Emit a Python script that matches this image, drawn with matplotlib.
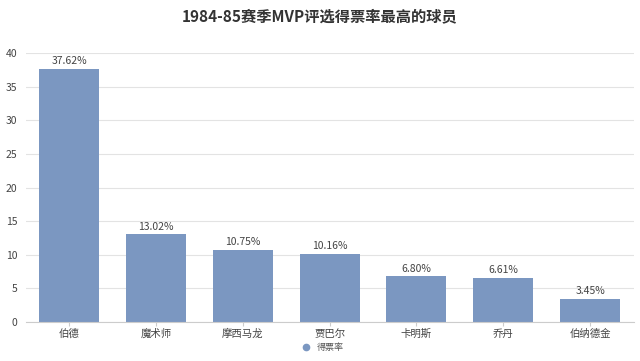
import matplotlib
matplotlib.use("Agg")
import matplotlib.pyplot as plt
from matplotlib.lines import Line2D

plt.rcParams['font.family'] = ['Noto Sans CJK SC', 'DejaVu Sans']

categories = ["伯德", "魔术师", "摩西马龙", "贾巴尔", "卡明斯", "乔丹", "伯纳德金"]
values = [37.62, 13.02, 10.75, 10.16, 6.80, 6.61, 3.45]
yticks = [0, 5, 10, 15, 20, 25, 30, 35, 40]
title = "1984-85赛季MVP评选得票率最高的球员"
series_name = "得票率"
color = "#7b97c1"

fig = plt.figure(figsize=(6.4, 3.61), dpi=100)
ax = fig.add_axes([0.040, 0.108, 0.950, 0.745])
x = range(len(categories))
bars = ax.bar(x, values, width=0.69, color=color, zorder=2)
for xi, v in zip(x, values):
    ax.text(xi, v + 0.4, f"{v:.2f}%", ha="center", va="bottom", fontsize=7.5, color="#444444")
ax.set_xlim(-0.5, len(categories) - 0.5)
ax.set_ylim(0, 40)
ax.set_yticks(yticks)
ax.set_xticks(list(x))
ax.set_xticklabels(categories)
ax.tick_params(axis="y", length=0, labelsize=7.5, colors="#444444", pad=6)
ax.tick_params(axis="x", length=3, color="#cccccc", labelsize=7.5, labelcolor="#444444", pad=2)
ax.grid(axis="y", color="#e3e3e3", linewidth=0.8, zorder=0)
for s in ["top", "right", "left"]:
    ax.spines[s].set_visible(False)
ax.spines["bottom"].set_color("#cccccc")
fig.text(0.5, 0.955, title, ha="center", va="center", fontsize=11, fontweight="bold", color="#333333")
handle = Line2D([], [], marker="o", linestyle="none", markersize=4.5, color=color)
fig.legend([handle], [series_name], loc="center", bbox_to_anchor=(0.5, 0.038), frameon=False,
           fontsize=6.5, handletextpad=0.2, labelcolor="#555555")
fig.savefig("out.png", dpi=100)
